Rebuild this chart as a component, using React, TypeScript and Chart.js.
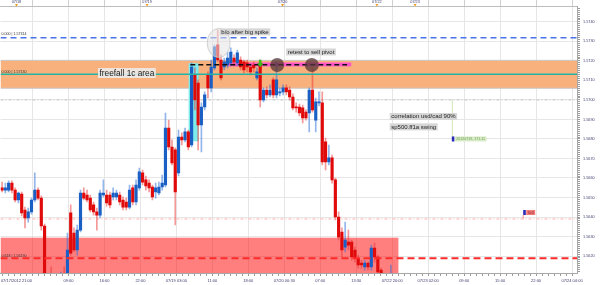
import React, { useEffect, useRef } from "react";
import { Chart, registerables } from "chart.js";

Chart.register(...registerables);

// ---- OHLC candles (GBP/USD) ----
const opens = [
  1.56549, 1.56538, 1.56538, 1.56574, 1.56538, 1.56487, 1.56518, 1.56436, 1.56395, 1.56426,
  1.56487, 1.56538, 1.56497, 1.56354, 1.56051, 1.56036, 1.56000, 1.56026, 1.56010, 1.56051,
  1.56026, 1.56421, 1.56318, 1.56231, 1.56333, 1.56523, 1.56513, 1.56497, 1.56462, 1.56426,
  1.56410, 1.56513, 1.56513, 1.56513, 1.56503, 1.56503, 1.56513, 1.56487, 1.56477, 1.56451,
  1.56549, 1.56477, 1.56549, 1.56626, 1.56590, 1.56574, 1.56554, 1.56528, 1.56523, 1.56554,
  1.56564, 1.56856, 1.56759, 1.56744, 1.56626, 1.56810, 1.56795, 1.56836, 1.56769, 1.57128,
  1.57087, 1.56872, 1.56964, 1.57128, 1.57062, 1.57164, 1.57282, 1.57205, 1.57169, 1.57179,
  1.57190, 1.57215, 1.57190, 1.57205, 1.57195, 1.57190, 1.57169, 1.57179, 1.57113, 1.57190,
  1.57000, 1.57051, 1.57026, 1.57103, 1.57026, 1.57036, 1.57041, 1.57062, 1.57051, 1.57015,
  1.56964, 1.56964, 1.56959, 1.56938, 1.56933, 1.57051, 1.56897, 1.56985, 1.56985, 1.56785,
  1.56682, 1.56703, 1.56590, 1.56400, 1.56323, 1.56246, 1.56272, 1.56272, 1.56231, 1.56190,
  1.56164, 1.56144, 1.56164, 1.56144, 1.56241, 1.56195, 1.56128, 1.56077, 1.56051, 1.56026,
];
const highs = [
  1.56579, 1.56574, 1.56585, 1.56585, 1.56549, 1.56528, 1.56528, 1.56451, 1.56446, 1.56497,
  1.56626, 1.56549, 1.56508, 1.56364, 1.56067, 1.56144, 1.56051, 1.56062, 1.56118, 1.56144,
  1.56318, 1.56462, 1.56344, 1.56359, 1.56538, 1.56549, 1.56538, 1.56513, 1.56477, 1.56446,
  1.56538, 1.56590, 1.56538, 1.56528, 1.56549, 1.56538, 1.56528, 1.56503, 1.56497, 1.56564,
  1.56564, 1.56590, 1.56651, 1.56641, 1.56610, 1.56590, 1.56564, 1.56574, 1.56579, 1.56615,
  1.56933, 1.56897, 1.56795, 1.56754, 1.56846, 1.56831, 1.56856, 1.56846, 1.57190, 1.57164,
  1.57103, 1.56985, 1.57041, 1.57144, 1.57205, 1.57282, 1.57359, 1.57231, 1.57215, 1.57246,
  1.57267, 1.57231, 1.57256, 1.57221, 1.57205, 1.57205, 1.57185, 1.57195, 1.57164, 1.57205,
  1.57062, 1.57067, 1.57077, 1.57113, 1.57195, 1.57062, 1.57077, 1.57077, 1.57067, 1.57031,
  1.56985, 1.56979, 1.56974, 1.56949, 1.57062, 1.57164, 1.57010, 1.57041, 1.57041, 1.56805,
  1.56769, 1.56718, 1.56600, 1.56426, 1.56344, 1.56374, 1.56333, 1.56282, 1.56246, 1.56205,
  1.56179, 1.56179, 1.56169, 1.56256, 1.56267, 1.56205, 1.56138, 1.56087, 1.56077, 1.56154,
];
const lows = [
  1.56528, 1.56523, 1.56528, 1.56523, 1.56477, 1.56472, 1.56405, 1.56344, 1.56374, 1.56415,
  1.56477, 1.56487, 1.56333, 1.56026, 1.55995, 1.55985, 1.55974, 1.55990, 1.55995, 1.56005,
  1.56015, 1.56205, 1.56221, 1.56205, 1.56323, 1.56487, 1.56477, 1.56426, 1.56410, 1.56333,
  1.56395, 1.56503, 1.56456, 1.56446, 1.56487, 1.56487, 1.56462, 1.56436, 1.56436, 1.56441,
  1.56462, 1.56462, 1.56538, 1.56564, 1.56538, 1.56528, 1.56487, 1.56497, 1.56513, 1.56538,
  1.56554, 1.56744, 1.56667, 1.56359, 1.56610, 1.56769, 1.56785, 1.56744, 1.56759, 1.56949,
  1.56744, 1.56733, 1.56949, 1.57010, 1.57041, 1.57154, 1.57195, 1.57103, 1.57154, 1.57164,
  1.57174, 1.57174, 1.57174, 1.57154, 1.57138, 1.57144, 1.57128, 1.57144, 1.57103, 1.56964,
  1.56990, 1.57010, 1.57015, 1.57010, 1.57010, 1.57021, 1.57026, 1.57026, 1.57000, 1.56949,
  1.56938, 1.56918, 1.56882, 1.56897, 1.56836, 1.56938, 1.56836, 1.56969, 1.56667, 1.56641,
  1.56667, 1.56574, 1.56385, 1.56282, 1.56195, 1.56221, 1.56231, 1.56179, 1.56169, 1.56138,
  1.56138, 1.56128, 1.56128, 1.56128, 1.56169, 1.56087, 1.56077, 1.56026, 1.56015, 1.56000,
];
const closes = [
  1.56538, 1.56549, 1.56574, 1.56538, 1.56487, 1.56523, 1.56421, 1.56395, 1.56426, 1.56487,
  1.56538, 1.56497, 1.56354, 1.56051, 1.56015, 1.56000, 1.56026, 1.56010, 1.56051, 1.56026,
  1.56231, 1.56215, 1.56231, 1.56333, 1.56523, 1.56497, 1.56487, 1.56436, 1.56426, 1.56410,
  1.56523, 1.56523, 1.56472, 1.56462, 1.56523, 1.56523, 1.56477, 1.56451, 1.56451, 1.56538,
  1.56477, 1.56564, 1.56631, 1.56579, 1.56559, 1.56549, 1.56503, 1.56549, 1.56554, 1.56574,
  1.56856, 1.56759, 1.56677, 1.56528, 1.56810, 1.56795, 1.56836, 1.56759, 1.57169, 1.57000,
  1.56872, 1.56964, 1.57026, 1.57062, 1.57169, 1.57272, 1.57205, 1.57113, 1.57195, 1.57215,
  1.57246, 1.57195, 1.57241, 1.57169, 1.57154, 1.57169, 1.57144, 1.57164, 1.57144, 1.57000,
  1.57051, 1.57026, 1.57051, 1.57026, 1.57103, 1.57041, 1.57062, 1.57041, 1.57015, 1.56959,
  1.56959, 1.56933, 1.56908, 1.56908, 1.57051, 1.56949, 1.56990, 1.56990, 1.56682, 1.56682,
  1.56703, 1.56590, 1.56400, 1.56297, 1.56231, 1.56282, 1.56256, 1.56195, 1.56190, 1.56154,
  1.56154, 1.56164, 1.56144, 1.56241, 1.56195, 1.56118, 1.56113, 1.56051, 1.56036, 1.56067,
];

// ---- axes ----
const X_MIN = -0.49;
const X_MAX = 175.96;
const Y_MIN = 1.56113;
const Y_MAX = 1.57479;
const gridStart = 9.3;
const gridStep = 11.01;
const bottomLabels = [
  "", "09:00", "16:00", "22:00", "07/19 03:00", "11:00", "18:00", "07/20 00:30",
  "07:00", "13:30", "07/22 20:00", "07/23 02:00", "09:00", "15:00", "22:00", "07/24 04:00",
];
const firstLabelPos = 4.4;
const firstLabel = "07/17/2012 21:00";
const topLabelPos = [4.4, 44.37, 85.84, 114.7, 126.4];
const topLabels = ["07/18", "07/19", "07/20", "07/22", "07/23"];

// ---- drawn objects ----
const orangeZone = [1.5706, 1.57203];
const redZone = [1.559, 1.56294];
const redZoneEnd = 121.3;
const levelBlue = 1.57319;
const levelTeal = 1.57132;
const levelRed = 1.56188;
const levelGray = 1.57;
const levelPink = 1.5639;
const levelTexts = ["0.000 | 1.57314", "0.000 | 1.57130", "0.618 | 1.56190"];
const cyanBoxX = [57.1, 60.15];
const cyanBoxY = [1.56788, 1.57188];
const blackDashX = [57.6, 105.6];
const blackDashY = 1.57181;
const pinkBarX = [68.9, 106.85];
const pinkBarY = [1.57172, 1.57192];
const circleX = [84.2, 94.8];
const circleY = 1.57179;
const ellipseX = 66.3;
const ellipseY = 1.57292;
const arrowX = 79.0;
const arrowY = 1.57185;
const noteTexts = ["b/o after big spike", "retest to sell pivot", "correlation usd/cad 90%", "sp500.ff1a swing"];
const noteX = [67.1, 87.4, 119.1, 119.1];
const noteY = [1.57349, 1.57246, 1.56915, 1.56862];
const bigNote = "freefall 1c area";
const bigNoteX = 29.8;
const bigNoteY = 1.57138;
const marker1X = 137.95;
const marker1Y = 1.568;
const marker1Text = "20120719, 171.11";
const marker1LineY = [1.5681, 1.57];
const marker2X = 159.8;
const marker2Y = 1.56423;
const marker2Text = "Sell";

const FONT = "'Liberation Sans', Arial, sans-serif";
const AXIS_COLOR = "#3c3c6e";

const annotations = {
  id: "annotations",
  beforeDatasetsDraw(chart: any) {
    const { ctx, chartArea: a } = chart;
    const xs = chart.scales.x;
    const ys = chart.scales.y;
    const X = (v: number) => xs.getPixelForValue(v);
    const Y = (v: number) => ys.getPixelForValue(v);
    ctx.save();
    ctx.beginPath();
    ctx.rect(a.left, a.top, a.right - a.left, a.bottom - a.top);
    ctx.clip();
    const oy1 = Y(orangeZone[1]);
    const oy2 = Y(orangeZone[0]);
    ctx.fillStyle = "#f8b07c";
    ctx.fillRect(a.left, oy1, a.right - a.left, oy2 - oy1);
    ctx.strokeStyle = "#c8c8c8";
    ctx.lineWidth = 1;
    ctx.beginPath();
    ctx.moveTo(a.left, oy1); ctx.lineTo(a.right, oy1);
    ctx.moveTo(a.left, oy2); ctx.lineTo(a.right, oy2);
    ctx.stroke();
    const ry1 = Y(redZone[1]);
    const ry2 = Y(redZone[0]);
    ctx.fillStyle = "rgba(255,0,0,0.5)";
    ctx.fillRect(a.left, ry1, X(redZoneEnd) - a.left, ry2 - ry1);
    ctx.setLineDash([3, 2, 1, 2]);
    ctx.strokeStyle = "#c4c4c4";
    ctx.beginPath();
    ctx.moveTo(a.left, Y(levelGray)); ctx.lineTo(a.right, Y(levelGray));
    ctx.stroke();
    ctx.strokeStyle = "rgba(255,110,110,0.55)";
    ctx.beginPath();
    ctx.moveTo(a.left, Y(levelPink)); ctx.lineTo(a.right, Y(levelPink));
    ctx.stroke();
    ctx.setLineDash([]);
    ctx.fillStyle = "#7cebeb";
    const cx1 = X(cyanBoxX[0]);
    const cy1 = Y(cyanBoxY[1]);
    ctx.fillRect(cx1, cy1, X(cyanBoxX[1]) - cx1, Y(cyanBoxY[0]) - cy1);
    ctx.fillStyle = "#ff55cc";
    const px1 = X(pinkBarX[0]);
    const py1 = Y(pinkBarY[1]);
    ctx.fillRect(px1, py1, X(pinkBarX[1]) - px1, Y(pinkBarY[0]) - py1);
    ctx.strokeStyle = "#cfe6b4";
    ctx.beginPath();
    ctx.moveTo(X(marker1X) - 0.5, Y(marker1LineY[0]));
    ctx.lineTo(X(marker1X) - 0.5, Y(marker1LineY[1]));
    ctx.stroke();
    ctx.restore();
  },
  afterDatasetsDraw(chart: any) {
    const { ctx, chartArea: a } = chart;
    const xs = chart.scales.x;
    const ys = chart.scales.y;
    const X = (v: number) => xs.getPixelForValue(v);
    const Y = (v: number) => ys.getPixelForValue(v);
    ctx.save();
    ctx.beginPath();
    ctx.rect(a.left, a.top, a.right - a.left, a.bottom - a.top);
    ctx.clip();
    const hline = (v: number, color: string, w: number, dash: number[], x0: number, x1: number) => {
      ctx.strokeStyle = color;
      ctx.lineWidth = w;
      ctx.setLineDash(dash);
      ctx.beginPath();
      ctx.moveTo(x0, Y(v));
      ctx.lineTo(x1, Y(v));
      ctx.stroke();
      ctx.setLineDash([]);
    };
    hline(levelTeal, "#22b3a4", 1.5, [], a.left, a.right);
    hline(levelBlue, "#4a72ea", 1.5, [6, 4], a.left, a.right);
    hline(levelRed, "#ff2a2a", 2, [7, 4], a.left, a.right);
    hline(blackDashY, "#111111", 1.5, [5, 3], X(blackDashX[0]), X(blackDashX[1]));

    ctx.font = `3.6px ${FONT}`;
    ctx.fillStyle = "#333";
    ctx.textAlign = "left";
    ctx.textBaseline = "bottom";
    ctx.fillText(levelTexts[0], a.left + 1, Y(levelBlue) - 1.5);
    ctx.fillText(levelTexts[1], a.left + 1, Y(levelTeal) - 0.5);
    ctx.fillText(levelTexts[2], a.left + 1, Y(levelRed) - 1);

    ctx.fillStyle = "rgba(85,55,55,0.75)";
    for (const cx of circleX) {
      ctx.beginPath();
      ctx.arc(X(cx), Y(circleY), 7, 0, Math.PI * 2);
      ctx.fill();
    }
    ctx.fillStyle = "rgba(228,228,228,0.55)";
    ctx.strokeStyle = "rgba(200,200,200,0.8)";
    ctx.lineWidth = 1;
    ctx.beginPath();
    ctx.ellipse(X(ellipseX), Y(ellipseY), 11.5, 14.5, 0, 0, Math.PI * 2);
    ctx.fill();
    ctx.stroke();
    const ax = X(arrowX);
    const ay = Y(arrowY);
    ctx.fillStyle = "#3cbf1e";
    ctx.beginPath();
    ctx.moveTo(ax - 1.3, ay - 4);
    ctx.lineTo(ax + 1.3, ay - 4);
    ctx.lineTo(ax + 1.3, ay - 0.5);
    ctx.lineTo(ax + 3, ay - 0.5);
    ctx.lineTo(ax, ay + 3.5);
    ctx.lineTo(ax - 3, ay - 0.5);
    ctx.lineTo(ax - 1.3, ay - 0.5);
    ctx.closePath();
    ctx.fill();

    const tag = (text: string, px: number, py: number, size: number, bg: string, fg: string, h: number) => {
      ctx.font = `${size}px ${FONT}`;
      const w = ctx.measureText(text).width;
      ctx.fillStyle = bg;
      ctx.fillRect(px - 1.5, py - h / 2, w + 3, h);
      ctx.fillStyle = fg;
      ctx.textAlign = "left";
      ctx.textBaseline = "middle";
      ctx.fillText(text, px, py + 0.3);
    };
    noteTexts.forEach((t, i) => tag(t, X(noteX[i]), Y(noteY[i]), 6, "#d6d6d6", "#222", 7));
    tag(bigNote, X(bigNoteX), Y(bigNoteY), 8.3, "rgba(236,236,236,0.88)", "#1a1a1a", 10);

    const m1x = X(marker1X);
    const m1y = Y(marker1Y);
    ctx.fillStyle = "#2a2ab8";
    ctx.fillRect(m1x - 1, m1y - 2.5, 2.6, 5);
    tag(marker1Text, m1x + 3.5, m1y, 3.6, "#d9ecc8", "#6a9a50", 5);
    const m2x = X(marker2X);
    const m2y = Y(marker2Y);
    ctx.strokeStyle = "rgba(255,120,120,0.8)";
    ctx.lineWidth = 1;
    ctx.beginPath();
    ctx.moveTo(m2x - 1, m2y + 2.5);
    ctx.lineTo(m2x - 1, Y(levelPink));
    ctx.stroke();
    tag(marker2Text, m2x + 3.5, m2y, 3.6, "#f07a7a", "#a03030", 5);
    ctx.fillStyle = "#2a2ab8";
    ctx.fillRect(m2x - 1, m2y - 2.5, 2.6, 5);
    ctx.restore();
  },
  afterDraw(chart: any) {
    const { ctx, chartArea: a } = chart;
    const xs = chart.scales.x2;
    ctx.save();
    ctx.fillStyle = "#f29a1e";
    for (const v of topLabelPos) {
      const px = xs.getPixelForValue(v);
      ctx.beginPath();
      ctx.moveTo(px - 1.5, a.top - 2.5);
      ctx.lineTo(px + 1.5, a.top - 2.5);
      ctx.lineTo(px, a.top);
      ctx.closePath();
      ctx.fill();
    }
    ctx.restore();
  },
};

export default function App() {
  const ref = useRef<HTMLCanvasElement | null>(null);
  useEffect(() => {
    document.body.style.margin = "0";
    if (!ref.current) return;
    const wickData = highs.map((h, i) => ({ x: i, y: [lows[i], h] }));
    const bodyData = opens.map((o, i) => ({ x: i, y: [o, closes[i]] }));
    const up = opens.map((o, i) => closes[i] >= o);
    const chart = new Chart(ref.current, {
      type: "bar",
      data: {
        datasets: [
          {
            data: wickData as any,
            backgroundColor: up.map((u) => (u ? "rgba(40,110,215,0.5)" : "rgba(235,50,50,0.5)")),
            barThickness: 1,
            grouped: false,
            order: 2,
            xAxisID: "x",
            yAxisID: "y",
          },
          {
            data: bodyData as any,
            backgroundColor: up.map((u) => (u ? "#1a5fc4" : "#e00a0a")),
            barThickness: 2.5,
            minBarLength: 1,
            grouped: false,
            order: 1,
            xAxisID: "x",
            yAxisID: "y",
          },
        ],
      },
      options: {
        animation: false,
        responsive: false,
        maintainAspectRatio: false,
        layout: { padding: 0 },
        plugins: { legend: { display: false }, tooltip: { enabled: false } },
        scales: {
          x: {
            type: "linear",
            position: "bottom",
            min: X_MIN,
            max: X_MAX,
            offset: false,
            bounds: "data",
            afterBuildTicks: (scale: any) => {
              const t: any[] = [];
              for (let k = -1; k < bottomLabels.length; k++) {
                const g = gridStart + gridStep * k;
                if (k >= 0) t.push({ value: g, kind: "grid", lbl: bottomLabels[k] });
                for (let j = 1; j < 6; j++) {
                  const v = g + (gridStep * j) / 6;
                  if (v > X_MIN && v < X_MAX) t.push({ value: v, kind: "minor", lbl: "" });
                }
              }
              t.push({ value: firstLabelPos, kind: "label", lbl: firstLabel });
              t.sort((p, q) => p.value - q.value);
              scale.ticks = t;
            },
            afterFit: (scale: any) => {
              scale.height = 12;
            },
            grid: {
              offset: false,
              color: (c: any) => (c.tick && c.tick.kind === "grid" ? "#e6e6e6" : "rgba(0,0,0,0)"),
              tickColor: (c: any) => (c.tick && c.tick.kind === "label" ? "rgba(0,0,0,0)" : "#9a9a9a"),
              tickLength: 3,
            },
            border: { color: "#a8a8a8" },
            ticks: {
              autoSkip: false,
              maxRotation: 0,
              minRotation: 0,
              padding: 2.5,
              color: AXIS_COLOR,
              font: { size: 4, family: FONT },
              callback: (_v: any, i: number, ticks: any[]) => ticks[i].lbl,
            },
          },
          x2: {
            type: "linear",
            position: "top",
            min: X_MIN,
            max: X_MAX,
            offset: false,
            bounds: "data",
            afterBuildTicks: (scale: any) => {
              const t: any[] = [];
              for (let k = 0; k < bottomLabels.length; k++) t.push({ value: gridStart + gridStep * k, kind: "grid", lbl: "" });
              topLabelPos.forEach((v, i) => t.push({ value: v, kind: "label", lbl: topLabels[i] }));
              t.sort((p, q) => p.value - q.value);
              scale.ticks = t;
            },
            afterFit: (scale: any) => {
              scale.height = 6.5;
            },
            grid: {
              drawOnChartArea: false,
              offset: false,
              tickLength: 7,
              tickColor: (c: any) => (c.tick && c.tick.kind === "grid" ? "#d0d0d0" : "rgba(0,0,0,0)"),
            },
            border: { color: "#bdbdbd" },
            ticks: {
              autoSkip: false,
              maxRotation: 0,
              minRotation: 0,
              padding: -5,
              color: AXIS_COLOR,
              font: { size: 3.8, family: FONT },
              callback: (_v: any, i: number, ticks: any[]) => ticks[i].lbl,
            },
          },
          y: {
            type: "linear",
            position: "right",
            min: Y_MIN,
            max: Y_MAX,
            bounds: "data",
            afterBuildTicks: (scale: any) => {
              const t: any[] = [];
              for (let k = Math.ceil(Y_MIN * 10000); k <= Math.floor(Y_MAX * 10000); k++) {
                t.push({ value: k / 10000, lvl: k % 10 === 0 });
              }
              scale.ticks = t;
            },
            afterFit: (scale: any) => {
              scale.width = 23;
            },
            grid: {
              color: (c: any) => (c.tick && c.tick.lvl ? "#e6e6e6" : "rgba(0,0,0,0)"),
              tickColor: "#9a9a9a",
              tickLength: 3,
            },
            border: { color: "#a8a8a8" },
            ticks: {
              autoSkip: false,
              padding: 3,
              color: AXIS_COLOR,
              font: { size: 3.8, family: FONT },
              callback: (v: any, i: number, ticks: any[]) => (ticks[i].lvl ? Number(v).toFixed(4) : ""),
            },
          },
        },
      } as any,
      plugins: [annotations],
    });
    return () => chart.destroy();
  }, []);
  return (
    <div style={{ width: 600, height: 285, background: "#fff" }}>
      <canvas ref={ref} width={600} height={285} style={{ display: "block" }} />
    </div>
  );
}
